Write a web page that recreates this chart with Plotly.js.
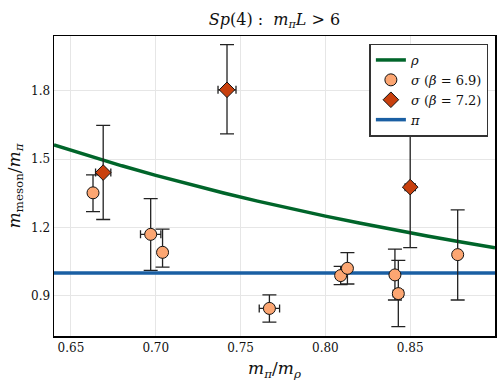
<!DOCTYPE html>
<html>
<head>
<meta charset="utf-8">
<script src="https://cdn.plot.ly/plotly-3.0.1.min.js"></script>
<style>
  html, body { margin: 0; padding: 0; background: #fff; }
  #chart { width: 498px; height: 383px; }
</style>
</head>
<body>
<div id="chart"></div>
<script>
// sigma, beta = 6.9
const sig69X = [0.663, 0.697, 0.704, 0.767, 0.809, 0.813, 0.841, 0.843, 0.878];
const sig69Y = [1.352, 1.170, 1.091, 0.845, 0.989, 1.021, 0.992, 0.910, 1.081];
const sig69Up = [0.079, 0.157, 0.102, 0.059, 0.040, 0.069, 0.113, 0.146, 0.196];
const sig69Down = [0.082, 0.158, 0.065, 0.060, 0.040, 0.069, 0.110, 0.145, 0.199];
const sig69Ex = [0.002, 0.006, 0.002, 0.006, 0.002, 0.002, 0.002, 0.003, 0.001];

// sigma, beta = 7.2
const sig72X = [0.669, 0.742, 0.850];
const sig72Y = [1.441, 1.804, 1.377];
const sig72Up = [0.207, 0.198, 0.265];
const sig72Down = [0.206, 0.193, 0.265];
const sig72Ex = [0.0045, 0.0053, 0.003];

// rho / pi lines
const rhoX = [0.64, 0.66, 0.68, 0.70, 0.72, 0.74, 0.76, 0.78, 0.80, 0.82, 0.84, 0.86, 0.88, 0.90];
const rhoY = [1.5625, 1.5152, 1.4706, 1.4286, 1.3889, 1.3514, 1.3158, 1.2821, 1.25, 1.2195, 1.1905, 1.1628, 1.1364, 1.1111];
const piX = [0.64, 0.90];
const piY = [1.0, 1.0];

const xTicks = [0.65, 0.70, 0.75, 0.80, 0.85];
const yTicks = [0.9, 1.2, 1.5, 1.8];

const serif = 'DejaVu Serif';
const errColor = '#222';

const traces = [
  {
    x: rhoX, y: rhoY, type: 'scatter', mode: 'lines',
    line: { color: '#00652a', width: 3.5 },
    name: '<i>ρ</i>', legendrank: 1
  },
  {
    x: piX, y: piY, type: 'scatter', mode: 'lines',
    line: { color: '#1a5fa3', width: 3.5 },
    name: '<i>π</i>', legendrank: 4
  },
  {
    x: sig69X, y: sig69Y, type: 'scatter', mode: 'markers',
    marker: { symbol: 'circle', size: 12, color: '#fca672', line: { color: '#111', width: 1 } },
    error_y: { type: 'data', symmetric: false, array: sig69Up, arrayminus: sig69Down, color: errColor, thickness: 1.3, width: 7 },
    error_x: { type: 'data', array: sig69Ex, color: errColor, thickness: 1.3, width: 4 },
    name: '<i>σ</i> (<i>β</i> = 6.9)', legendrank: 2
  },
  {
    x: sig72X, y: sig72Y, type: 'scatter', mode: 'markers',
    marker: { symbol: 'diamond', size: 12, color: '#c8400e', line: { color: '#111', width: 1 } },
    error_y: { type: 'data', symmetric: false, array: sig72Up, arrayminus: sig72Down, color: errColor, thickness: 1.3, width: 7 },
    error_x: { type: 'data', array: sig72Ex, color: errColor, thickness: 1.3, width: 4 },
    name: '<i>σ</i> (<i>β</i> = 7.2)', legendrank: 3
  }
];

const layout = {
  width: 498, height: 383,
  margin: { l: 54, r: 3, t: 36, b: 47 },
  paper_bgcolor: '#fff', plot_bgcolor: '#fff',
  font: { family: serif, size: 13, color: '#111' },
  title: {
    text: '<i>Sp</i>(4) :  <i>m</i><sub><i>π</i></sub><i>L</i> > 6',
    x: 0.5, xref: 'paper', y: 0.965, yref: 'container',
    font: { family: serif, size: 16, color: '#111' }
  },
  xaxis: {
    range: [0.64, 0.9],
    tickvals: xTicks, ticktext: xTicks.map(v => v.toFixed(2)),
    showgrid: true, gridcolor: '#e6e6e6', gridwidth: 1,
    showline: true, linecolor: '#000', linewidth: 1.5, mirror: true,
    zeroline: false, ticks: '',
    tickfont: { family: serif, size: 12 },
    title: { text: '<i>m</i><sub><i>π</i></sub>/<i>m</i><sub><i>ρ</i></sub>', font: { family: serif, size: 17 }, standoff: 8 }
  },
  yaxis: {
    range: [0.724, 2.04],
    tickvals: yTicks, ticktext: yTicks.map(v => v.toFixed(1)),
    showgrid: true, gridcolor: '#e6e6e6', gridwidth: 1,
    showline: true, linecolor: '#000', linewidth: 1.5, mirror: true,
    zeroline: false, ticks: '',
    tickfont: { family: serif, size: 12 },
    title: { text: '<i>m</i><sub>meson</sub>/<i>m</i><sub><i>π</i></sub>', font: { family: serif, size: 17 }, standoff: 6 }
  },
  showlegend: true,
  legend: {
    x: 0.985, y: 0.975, xanchor: 'right', yanchor: 'top',
    bgcolor: '#fff', bordercolor: '#333', borderwidth: 1.5,
    font: { family: serif, size: 13 },
    tracegroupgap: 0, itemwidth: 30
  }
};

Plotly.newPlot('chart', traces, layout, { displayModeBar: false, staticPlot: true });
</script>
</body>
</html>
